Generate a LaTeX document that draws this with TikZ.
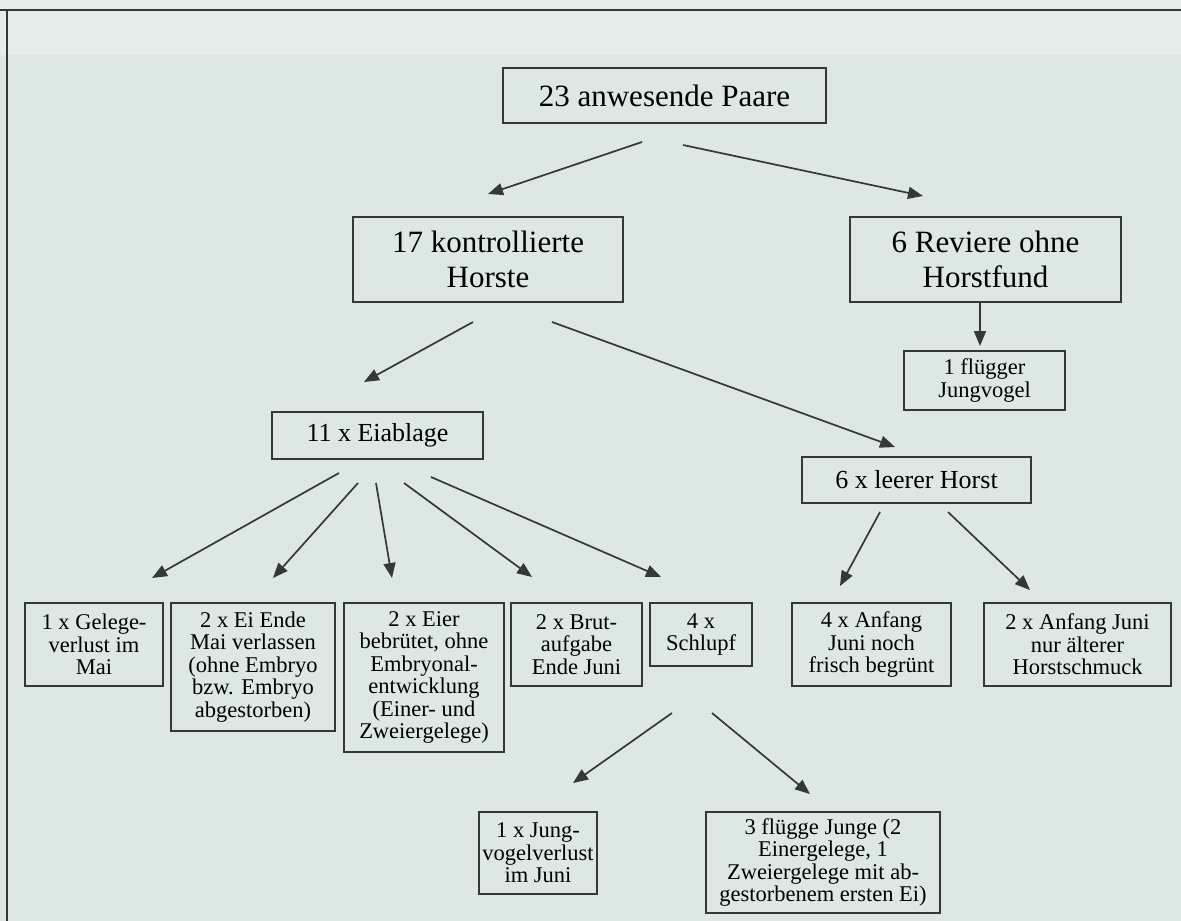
\documentclass[tikz,border=0pt]{standalone}
\usepackage{fontspec}
\setmainfont{Liberation Serif}
\usetikzlibrary{arrows.meta}
\definecolor{bgc}{HTML}{DDE7E3}
\definecolor{topc}{HTML}{E6ECE9}
\definecolor{ink}{HTML}{343836}
\tikzset{
  box/.style={draw=ink, line width=1.7pt, inner sep=0pt, align=center, text=black},
  big/.style={font=\fontsize{31}{35}\selectfont},
  mid/.style={font=\fontsize{26}{30}\selectfont},
  small/.style={font=\fontsize{22.5}{22.5}\selectfont},
  arr/.style={draw=ink, line width=1.7pt, -{Triangle[length=15pt,width=12pt]}},
}
\begin{document}
\begin{tikzpicture}[x=1pt,y=-1pt]
\useasboundingbox (0,0) rectangle (1181,921);
\fill[bgc] (0,0) rectangle (1181,921);
\fill[topc] (0,0) rectangle (1181,55);
\draw[ink, line width=2.5pt] (0,10) -- (1181,10);
\draw[ink, line width=2.5pt] (7,10) -- (7,921);

% boxes
\node[box,big,minimum width=323pt,minimum height=55pt] (n23) at (664.5,95.5) {23 anwesende Paare};
\node[box,big,minimum width=270pt,minimum height=85pt] (n17) at (488,259.5) {17 kontrollierte\\Horste};
\node[box,big,minimum width=271pt,minimum height=85pt] (n6r) at (985.5,259.5) {6 Reviere ohne\\Horstfund};
\node[box,small,minimum width=161pt,minimum height=59pt] (n1f) at (984.5,380.5) {1 flügger\\Jungvogel};
\node[box,mid,minimum width=211pt,minimum height=47pt] (nei) at (377.5,435.5) {11 x Eiablage};
\node[box,mid,minimum width=229pt,minimum height=46pt] (nlh) at (916.5,480) {6 x leerer Horst};
\node[box,small,minimum width=138pt,minimum height=83pt] (b1) at (94,644.5) {1 x Gelege-\\verlust im\\Mai};
\node[box,small,minimum width=164pt,minimum height=128pt] (b2) at (253,667) {2 x Ei Ende\\Mai verlassen\\(ohne Embryo\\bzw. Embryo\\abgestorben)};
\node[box,small,minimum width=160pt,minimum height=149pt] (b3) at (424,677.5) {2 x Eier\\bebrütet, ohne\\Embryonal-\\entwicklung\\(Einer- und\\Zweiergelege)};
\node[box,small,minimum width=131pt,minimum height=83pt] (b4) at (576.5,644.5) {2 x Brut-\\aufgabe\\Ende Juni};
\node[box,small,minimum width=102pt,minimum height=63pt] (b5) at (701,634.5) {4 x\\Schlupf};
\node[box,small,minimum width=159pt,minimum height=83pt] (b6) at (871.5,644.5) {4 x Anfang\\Juni noch\\frisch begrünt};
\node[box,small,minimum width=187pt,minimum height=83pt] (b7) at (1077.5,644.5) {2 x Anfang Juni\\nur älterer\\Horstschmuck};
\node[box,small,minimum width=118pt,minimum height=82pt] (b8) at (538,853) {1 x Jung-\\vogelverlust\\im Juni};
\node[box,small,minimum width=234pt,minimum height=101pt] (b9) at (823,862.5) {3 flügge Junge (2\\Einergelege, 1\\Zweiergelege mit ab-\\gestorbenem ersten Ei)};

% connector end points
\coordinate (a1s) at (642,142); \coordinate (a1e) at (488,194);
\coordinate (a2s) at (683,145); \coordinate (a2e) at (923,196);
\coordinate (a3s) at (473,322); \coordinate (a3e) at (364,382);
\coordinate (a4s) at (552,322); \coordinate (a4e) at (895,447);
\coordinate (a5s) at (980,302); \coordinate (a5e) at (980,346);
\coordinate (e1s) at (339,473); \coordinate (e1e) at (152,578);
\coordinate (e2s) at (358,483); \coordinate (e2e) at (273,578);
\coordinate (e3s) at (376,483); \coordinate (e3e) at (392,578);
\coordinate (e4s) at (404,483); \coordinate (e4e) at (532,577);
\coordinate (e5s) at (431,477); \coordinate (e5e) at (661,577);
\coordinate (l1s) at (880,512); \coordinate (l1e) at (840,586);
\coordinate (l2s) at (948,512); \coordinate (l2e) at (1030,590);
\coordinate (s1s) at (672,713); \coordinate (s1e) at (573,783);
\coordinate (s2s) at (712,713); \coordinate (s2e) at (810,794);

\draw[arr] (a1s) -- (a1e);
\draw[arr] (a2s) -- (a2e);
\draw[arr] (a3s) -- (a3e);
\draw[arr] (a4s) -- (a4e);
\draw[arr] (a5s) -- (a5e);
\draw[arr] (e1s) -- (e1e);
\draw[arr] (e2s) -- (e2e);
\draw[arr] (e3s) -- (e3e);
\draw[arr] (e4s) -- (e4e);
\draw[arr] (e5s) -- (e5e);
\draw[arr] (l1s) -- (l1e);
\draw[arr] (l2s) -- (l2e);
\draw[arr] (s1s) -- (s1e);
\draw[arr] (s2s) -- (s2e);
\end{tikzpicture}
\end{document}
